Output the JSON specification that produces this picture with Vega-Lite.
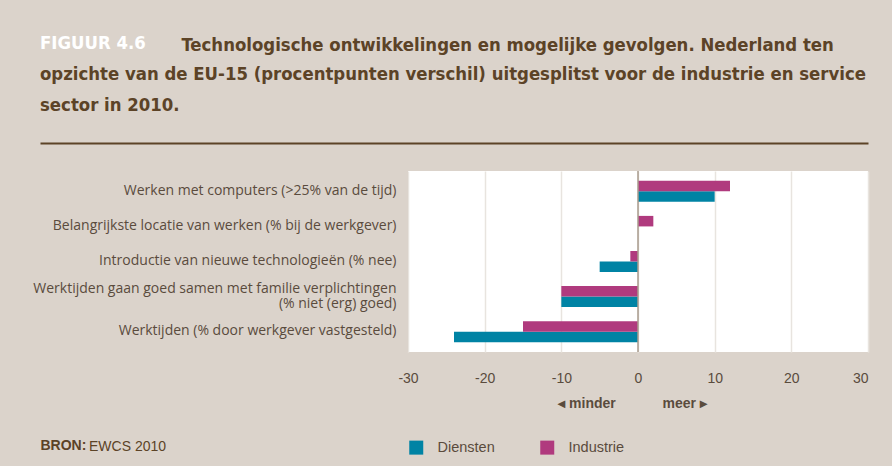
{
  "$schema": "https://vega.github.io/schema/vega-lite/v6.json",
  "width": 828,
  "height": 181,
  "autosize": {"type": "none"},
  "padding": {"left": 40, "top": 171, "right": 24, "bottom": 114},
  "background": "#dbd3cb",
  "view": {"fill": "white", "stroke": null},
  "title": {
    "text": "FIGUUR 4.6",
    "subtitle": ["opzichte van de EU-15 (procentpunten verschil) uitgesplitst voor de industrie en service", "sector in 2010."],
    "anchor": "start",
    "frame": "group",
    "font": "DejaVu Sans Condensed",
    "fontSize": 18.4,
    "fontWeight": "bold",
    "color": "white",
    "subtitleFont": "DejaVu Sans Condensed",
    "subtitleFontSize": 18.4,
    "subtitleFontWeight": "bold",
    "subtitleColor": "#5c4327",
    "subtitleLineHeight": 31,
    "subtitlePadding": 12,
    "offset": 0,
    "dy": 79
  },
  "data": {
    "values": [
      {"cat": "Werken met computers (>25% van de tijd)", "series": "Diensten", "value": 10},
      {"cat": "Werken met computers (>25% van de tijd)", "series": "Industrie", "value": 12},
      {"cat": "Belangrijkste locatie van werken (% bij de werkgever)", "series": "Diensten", "value": 0},
      {"cat": "Belangrijkste locatie van werken (% bij de werkgever)", "series": "Industrie", "value": 2},
      {"cat": "Introductie van nieuwe technologieën (% nee)", "series": "Diensten", "value": -5},
      {"cat": "Introductie van nieuwe technologieën (% nee)", "series": "Industrie", "value": -1},
      {"cat": "Werktijden gaan goed samen met familie verplichtingen|(% niet (erg) goed)", "series": "Diensten", "value": -10},
      {"cat": "Werktijden gaan goed samen met familie verplichtingen|(% niet (erg) goed)", "series": "Industrie", "value": -10},
      {"cat": "Werktijden (% door werkgever vastgesteld)", "series": "Diensten", "value": -24},
      {"cat": "Werktijden (% door werkgever vastgesteld)", "series": "Industrie", "value": -15}
    ]
  },
  "resolve": {"axis": {"x": "independent"}},
  "layer": [
    {
      "data": {"values": [{}]},
      "mark": {"type": "rect", "color": "#dbd3cb"},
      "encoding": {
        "x": {
          "datum": -78,
          "type": "quantitative",
          "scale": {"domain": [-78, 30], "nice": false, "zero": false},
          "axis": {
            "orient": "top",
            "offset": 28,
            "domain": true,
            "domainColor": "#5c4327",
            "domainWidth": 2,
            "labels": false,
            "ticks": false,
            "grid": false,
            "title": "Technologische ontwikkelingen en mogelijke gevolgen. Nederland ten",
            "titleFont": "DejaVu Sans Condensed",
            "titleFontSize": 18.4,
            "titleFontWeight": "bold",
            "titleColor": "#5c4327",
            "titleAlign": "left",
            "titleAnchor": "start",
            "titleBaseline": "alphabetic",
            "titleX": 141,
            "titleY": -93
          }
        },
        "x2": {"datum": -30}
      }
    },
    {
      "mark": {"type": "bar"},
      "encoding": {
        "x": {
          "field": "value",
          "type": "quantitative",
          "axis": {
            "orient": "bottom",
            "values": [-30, -20, -10, 0, 10, 20, 30],
            "labelExpr": "'' + datum.value",
            "domain": false,
            "ticks": false,
            "grid": true,
            "gridColor": "#e8e4df",
            "gridWidth": 1.5,
            "labelFont": "Liberation Sans",
            "labelFontSize": 14,
            "labelColor": "#5a4b3d",
            "labelPadding": 19,
            "title": "◂ minder\u00a0\u00a0\u00a0\u00a0\u00a0\u00a0\u00a0\u00a0\u00a0\u00a0\u00a0\u00a0meer ▸",
            "titleFont": "Liberation Sans",
            "titleFontSize": 14,
            "titleFontWeight": "bold",
            "titleColor": "#5a4b3d",
            "titleX": 592,
            "titleY": 51,
            "titleBaseline": "middle",
            "titleAlign": "center"
          }
        },
        "y": {
          "field": "cat",
          "type": "nominal",
          "sort": null,
          "scale": {"paddingInner": 0.4, "paddingOuter": 0.28},
          "axis": {
            "orient": "left",
            "offset": -368,
            "domain": false,
            "ticks": false,
            "labelPadding": 12,
            "labelFont": "Open Sans",
            "labelFontSize": 14,
            "labelColor": "#5a4b3d",
            "labelLimit": 420,
            "labelLineHeight": 15,
            "labelExpr": "split(datum.label, '|')",
            "labelOffset": {"condition": {"test": "indexof(datum.value, '|') >= 0", "value": -7.5}, "value": -0.5},
            "zindex": 1,
            "title": "BRON:",
            "titleFont": "Liberation Sans",
            "titleFontSize": 14,
            "titleFontWeight": "bold",
            "titleColor": "#5c4327",
            "titleAngle": 0,
            "titleAlign": "left",
            "titleBaseline": "alphabetic",
            "titleX": -368,
            "titleY": 278.5
          }
        },
        "yOffset": {"field": "series", "type": "nominal", "sort": ["Industrie", "Diensten"]},
        "color": {
          "field": "series",
          "type": "nominal",
          "scale": {"domain": ["Diensten", "Industrie"], "range": ["#0083a4", "#b03a7e"]},
          "legend": {
            "orient": "none",
            "legendX": 49,
            "legendY": 269,
            "direction": "horizontal",
            "title": "EWCS 2010",
            "titleOrient": "left",
            "titlePadding": 242,
            "titleFont": "Liberation Sans",
            "titleFontSize": 14,
            "titleFontWeight": "normal",
            "titleColor": "#5c4327",
            "padding": 0,
            "symbolType": "square",
            "symbolSize": 196,
            "symbolStrokeWidth": 0,
            "symbolOpacity": 1,
            "labelFont": "Liberation Sans",
            "labelFontSize": 14.5,
            "labelColor": "#5a4b3d",
            "labelOffset": 14,
            "columnPadding": 45
          }
        }
      }
    },
    {
      "data": {"values": [{}]},
      "mark": {"type": "rule", "color": "#a89b8e", "strokeWidth": 1.5},
      "encoding": {
        "x": {"datum": 0, "type": "quantitative", "axis": null}
      }
    }
  ]
}
